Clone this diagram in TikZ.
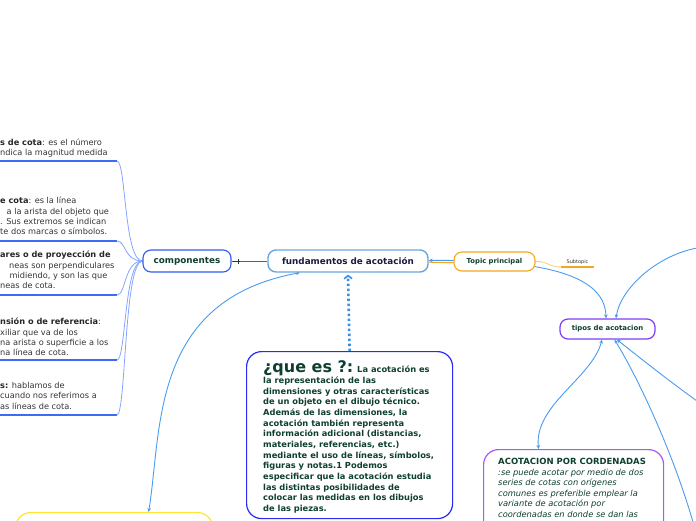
\documentclass[tikz,border=0pt]{standalone}
\usepackage{fontspec}
\setmainfont{DejaVu Sans}
\usetikzlibrary{arrows.meta}
\definecolor{txtgreen}{HTML}{0E3F2F}
\definecolor{navytxt}{HTML}{1B1B3F}
\definecolor{lineblue}{HTML}{4A9BF0}
\definecolor{ulblue}{HTML}{3C6CF5}
\definecolor{connblue}{HTML}{86A4FF}
\definecolor{compblue}{HTML}{2E5CF0}
\definecolor{fundblue}{HTML}{6AA6DE}
\definecolor{orangeb}{HTML}{F5A623}
\definecolor{orangel}{HTML}{FBCB7A}
\definecolor{purpleb}{HTML}{7B3FF2}
\definecolor{purpleb2}{HTML}{A659F7}
\definecolor{queblue}{HTML}{2A2AF0}
\definecolor{yellowb}{HTML}{FFE433}
\definecolor{greytxt}{HTML}{333333}
\definecolor{dotblue}{HTML}{3A8EE6}
\pgfdeclarelayer{bg}
\pgfsetlayers{bg,main}
\tikzset{
  box/.style={rectangle, draw, fill=white, inner sep=0pt, rounded corners=8pt},
  bigbox/.style={rectangle, draw, fill=white, inner sep=0pt, rounded corners=15pt, line width=1.2pt, anchor=north west},
  lefttxt/.style={anchor=north west, inner sep=0pt, align=left, text=greytxt, font=\fontsize{8.2}{10.3}\selectfont},
  ulline/.style={draw=ulblue, line width=1.6pt},
  conn/.style={draw=connblue, line width=0.8pt},
  conn2/.style={draw=lineblue, line width=0.9pt},
  tip/.tip={Stealth[length=4pt,width=3.6pt]}
}
\begin{document}
\begin{tikzpicture}[x=1pt,y=-1pt]
\clip (0,0) rectangle (696,520);
\useasboundingbox (0,0) rectangle (696,520);

% ---------- boxes ----------
\node[box, draw=compblue, line width=1.1pt, minimum width=88pt, minimum height=22pt,
      text=txtgreen, font=\fontsize{8.8}{10}\selectfont\bfseries] (comp) at (187,261) {componentes};
\node[box, draw=fundblue, line width=1.4pt, minimum width=160pt, minimum height=22pt,
      text=navytxt, font=\fontsize{8.8}{10}\selectfont\bfseries] (fund) at (348,261) {fundamentos de acotación};
\node[box, draw=orangeb, line width=1.1pt, minimum width=81pt, minimum height=19pt,
      text=txtgreen, font=\fontsize{6.8}{8}\selectfont\bfseries] (topic) at (494.5,261.5) {Topic principal};
\node[box, draw=purpleb, line width=1.2pt, minimum width=95pt, minimum height=20pt,
      text=txtgreen, font=\fontsize{6.9}{8}\selectfont\bfseries] (tipos) at (607.5,329) {tipos de acotacion};
\node[inner sep=0pt, text=greytxt, font=\fontsize{5}{6}\selectfont] (subt) at (577.5,262) {Subtopic};

\node[bigbox, draw=queblue, minimum width=206pt, minimum height=167pt] (que) at (246,351) {};
\node[bigbox, draw=purpleb2, minimum width=180pt, minimum height=110pt] (acot) at (483,449) {};
\node[bigbox, draw=yellowb, minimum width=197pt, minimum height=60pt] (yel) at (15,512) {};

% ---------- texts in boxes ----------
\node[anchor=north west, inner sep=0pt, align=left, text=txtgreen,
      font=\fontsize{8.3}{10.67}\selectfont\bfseries] (quetxt) at (263,360)
 {{\fontsize{16}{16}\selectfont ¿que es ?:} La acotación es\\[0.6pt]
  la representación de las\\
  dimensiones y otras características\\
  de un objeto en el dibujo técnico.\\
  Además de las dimensiones, la\\
  acotación también representa\\
  información adicional (distancias,\\
  materiales, referencias, etc.)\\
  mediante el uso de líneas, símbolos,\\
  figuras y notas.1 Podemos\\
  especificar que la acotación estudia\\
  las distintas posibilidades de\\
  colocar las medidas en los dibujos\\
  de las piezas.};

\node[anchor=north west, inner sep=0pt, align=left, text=txtgreen,
      font=\fontsize{8.3}{10.5}\selectfont] (acottxt) at (498,458)
 {{\fontsize{8.5}{10}\selectfont\bfseries ACOTACION POR CORDENADAS}\\
  \itshape :se puede acotar por medio de dos\\
  \itshape series de cotas con orígenes\\
  \itshape comunes es preferible emplear la\\
  \itshape variante de acotación por\\
  \itshape coordenadas en donde se dan las};

% ---------- left texts ----------
\node[lefttxt] (t1) at (0,138.3) {\textbf{\color{black!85}s de cota}: es el número\\ndica la magnitud medida};
\node[lefttxt] (t2) at (0,197) {\textbf{\color{black!85}e cota}: es la línea\\
  \hspace*{6.5pt}a la arista del objeto que\\
  . Sus extremos se indican\\
  te dos marcas o símbolos.};
\node[lefttxt] (t3) at (0,251) {\textbf{\color{black!85}ares o de proyección de}\\
  \hspace*{9pt}neas son perpendiculares\\
  \hspace*{9.5pt}midiendo, y son las que\\
  neas de cota.};
\node[lefttxt] (t4) at (0,318) {\textbf{\color{black!85}nsión o de referencia}:\\
  xiliar que va de los\\
  na arista o superficie a los\\
  na línea de cota.};
\node[lefttxt] (t5) at (0,382) {\textbf{\color{black!85}s:} hablamos de\\
  cuando nos referimos a\\
  as líneas de cota.};

% ---------- coordinates ----------
\coordinate (u1s) at (0,161);   \coordinate (u1) at (117,161);
\coordinate (u2s) at (0,241);   \coordinate (u2) at (117,241);
\coordinate (u3s) at (0,295);   \coordinate (u3) at (117,295);
\coordinate (u4s) at (0,360);   \coordinate (u4) at (117,360);
\coordinate (u5s) at (0,415);   \coordinate (u5) at (117,415);
\coordinate (sub) at (561,267); \coordinate (sube) at (594,267);
\coordinate (r1) at (697,248);
\coordinate (r2) at (697,401);
\coordinate (r3) at (693,522);

\begin{pgfonlayer}{bg}
% underlines and branches to componentes
\foreach \u in {1,...,5}{
  \draw[ulline] (u\u s) -- (u\u);
  \draw[conn] (comp.west) .. controls (124,261) and (126,0|-u\u) .. (u\u);
}
\path (u1) coordinate (dummy);
% componentes -- fundamentos
\draw[draw=compblue, line width=0.9pt] (comp.east) -- (fund.west);
\draw[txtgreen, line width=1pt] (233,261) -- (240,261);
\draw[txtgreen, line width=0.8pt] (238,258.5) -- (238,263.5);
% orange link topic -> fund
\draw[orangeb, line width=1pt] ([yshift=-1.2pt]topic.west) -- ([yshift=-1.2pt]fund.east);
% blue fund <-> tipos (behind topic)
\draw[conn2, tip-tip] ([yshift=0.6pt]fund.east) .. controls (520,260) and (605,268) .. ([xshift=-1.5pt]tipos.north);
% subtopic
\draw[orangel, line width=0.8pt] (topic.east) .. controls (548,261) and (548,267) .. (sub);
\draw[orangeb, line width=1.3pt] (sub) -- (sube);
% right side connectors to tipos
\draw[conn2, -tip] (r1) .. controls (655,256) and (620,290) .. ([xshift=8.5pt]tipos.north);
\draw[conn2, tip-tip] ([xshift=-5.5pt]tipos.south) .. controls (592,378) and (534,405) .. ([xshift=-35pt]acot.north);
\draw[conn2, tip-] ([xshift=9.5pt]tipos.south) .. controls (645,362) and (672,383) .. (r2);
\draw[conn2, tip-] ([xshift=7pt]tipos.south) .. controls (638,378) and (672,450) .. (r3);
% yellow <-> fund
\draw[conn2, tip-tip] ([xshift=34.5pt]yel.north) .. controls (162,430) and (150,300) .. ([xshift=-48pt]fund.south);
% dotted que -> fund
\draw[dotblue, line width=2.6pt, dash pattern=on 2.4pt off 2.6pt, -{Straight Barb[length=3pt,width=8pt,line width=1.6pt]}] (que.north) -- ([yshift=-2pt]fund.south);
\end{pgfonlayer}
\end{tikzpicture}
\end{document}
